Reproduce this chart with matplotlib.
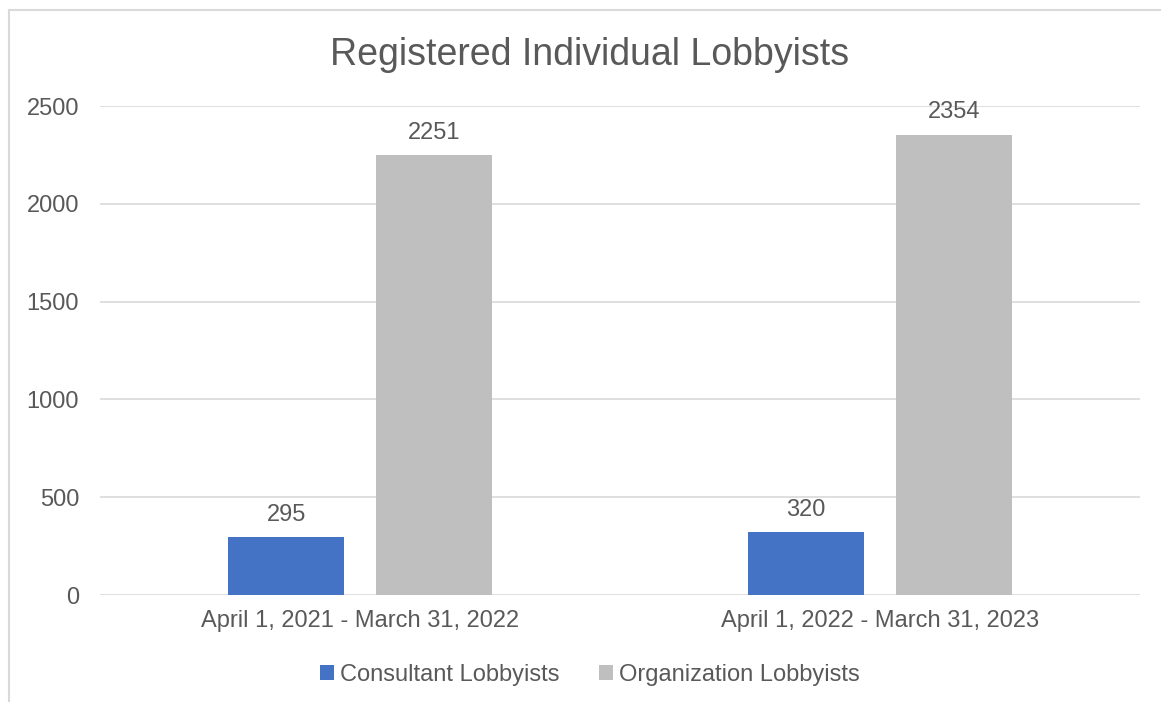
import matplotlib.pyplot as plt
from matplotlib.patches import Rectangle
import numpy as np

periods = ['April 1, 2021 - March 31, 2022', 'April 1, 2022 - March 31, 2023']
consultant = [295, 320]
organization = [2251, 2354]

plt.rcParams['font.family'] = ['Liberation Sans', 'DejaVu Sans']
txt = '#595959'
grid = '#D9D9D9'

fig = plt.figure(figsize=(11.61, 7.02), dpi=100)
ax = fig.add_axes([0.0861, 0.1524, 0.8958, 0.6966])

# outer chart frame (runs off the right and bottom edges)
fig.patches.append(Rectangle((9 / 1161, -0.05), 1.2, 1 - 10 / 702 + 0.05,
                             transform=fig.transFigure, fill=False,
                             edgecolor=grid, linewidth=1.5))

x = np.arange(len(periods))
w = 0.223
off = 0.142
b1 = ax.bar(x - off, consultant, w, color='#4472C4', label='Consultant Lobbyists', zorder=3)
b2 = ax.bar(x + off, organization, w, color='#BFBFBF', label='Organization Lobbyists', zorder=3)
for bars in (b1, b2):
    ax.bar_label(bars, padding=8, fontsize=17, color=txt)

ax.set_xlim(-0.5, 1.5)
ax.set_ylim(0, 2500)
ax.set_yticks(range(0, 2501, 500))
ax.set_xticks(x)
ax.set_xticklabels(periods)
ax.tick_params(axis='both', length=0, labelsize=17, labelcolor=txt)
ax.tick_params(axis='y', pad=15)
ax.tick_params(axis='x', pad=11)
ax.grid(axis='y', color=grid, linewidth=1.2, zorder=0)
for s in ax.spines.values():
    s.set_visible(False)

fig.text(0.508, 0.921, 'Registered Individual Lobbyists', ha='center', va='center',
         fontsize=27, color=txt)

fig.legend(loc='center', bbox_to_anchor=(0.508, 0.039), ncol=2, frameon=False,
           fontsize=17, labelcolor=txt, handlelength=0.6, handleheight=0.6,
           handletextpad=0.25, columnspacing=1.7)

fig.savefig('out.png', dpi=100)
